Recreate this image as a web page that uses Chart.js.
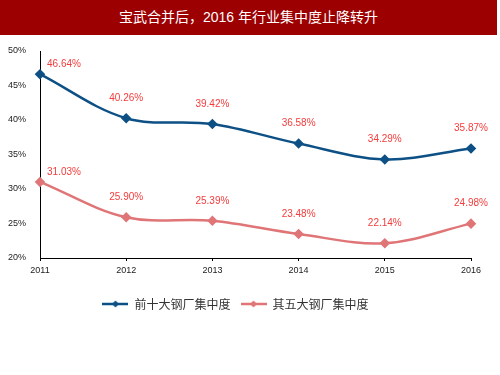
<!DOCTYPE html>
<html>
<head>
<meta charset="utf-8">
<script src="https://cdn.jsdelivr.net/npm/chart.js@4/dist/chart.umd.min.js"></script>
<style>
  body { margin: 0; background: #fff; }
  #title {
    width: 497px; height: 35px; background: #9c0000; color: #fff;
    font: 14px "Liberation Sans", "Noto Sans CJK SC", sans-serif; text-align: center; line-height: 35px;
  }
  #wrap { position: relative; width: 500px; height: 340px; }
</style>
</head>
<body>
<div id="title">宝武合并后，2016 年行业集中度止降转升</div>
<div id="wrap"><canvas id="chart" width="500" height="340"></canvas></div>
<script>
const years = ["2011", "2012", "2013", "2014", "2015", "2016"];
const top10 = [46.64, 40.26, 39.42, 36.58, 34.29, 35.87];
const top5 = [31.03, 25.90, 25.39, 23.48, 22.14, 24.98];
const seriesNames = ["前十大钢厂集中度", "其五大钢厂集中度"];
const colors = ["#0d5085", "#e07577"];

// legend icon: line with diamond
function legendIcon(color) {
  const c = document.createElement("canvas");
  c.width = 26; c.height = 10;
  const g = c.getContext("2d");
  g.strokeStyle = color; g.lineWidth = 2.5;
  g.beginPath(); g.moveTo(0, 5); g.lineTo(26, 5); g.stroke();
  g.fillStyle = color;
  g.beginPath(); g.moveTo(13, 1.5); g.lineTo(16.5, 5); g.lineTo(13, 8.5); g.lineTo(9.5, 5); g.closePath(); g.fill();
  return c;
}
const icons = colors.map(legendIcon);

// red value labels over points
const valueLabels = {
  id: "valueLabels",
  afterDatasetsDraw(chart) {
    const ctx = chart.ctx;
    ctx.save();
    ctx.font = "10px 'Liberation Sans', Arial, sans-serif";
    ctx.fillStyle = "#f43c3c";
    ctx.textAlign = "center";
    ctx.textBaseline = "middle";
    chart.data.datasets.forEach((ds, i) => {
      chart.getDatasetMeta(i).data.forEach((pt, j) => {
        const dx = j === 0 ? 24 : 0;
        const dy = j === 0 ? -10 : -20;
        ctx.fillText(ds.data[j].toFixed(2) + "%", pt.x + dx, pt.y + dy);
      });
    });
    ctx.restore();
  }
};

new Chart(document.getElementById("chart"), {
  type: "line",
  data: {
    labels: years,
    datasets: [top10, top5].map((d, i) => ({
      label: seriesNames[i],
      data: d,
      borderColor: colors[i],
      backgroundColor: colors[i],
      borderWidth: 2.5,
      tension: 0.35,
      pointStyle: "rectRot",
      pointRadius: 3.5,
      pointHoverRadius: 3.5
    }))
  },
  options: {
    responsive: false,
    animation: false,
    layout: { padding: { top: 16, right: 29, left: 0, bottom: 55 } },
    scales: {
      x: {
        offset: false,
        grid: { drawOnChartArea: false, color: "#000", tickLength: 3 },
        border: { color: "#000", width: 1 },
        ticks: { color: "#222", font: { size: 9, family: "'Liberation Sans', Arial" }, padding: 4, maxRotation: 0 },
        afterFit(s) { s.height = 30; }
      },
      y: {
        min: 20, max: 50,
        grid: { display: false },
        border: { color: "#000", width: 1 },
        ticks: {
          stepSize: 5, color: "#222", padding: 6,
          font: { size: 9, family: "'Liberation Sans', Arial" },
          callback: v => v + "%"
        },
        afterFit(s) { s.width = 40; }
      }
    },
    plugins: {
      legend: {
        position: "bottom",
        labels: {
          usePointStyle: true,
          pointStyleWidth: 26,
          color: "#333",
          font: { size: 12, family: "'Noto Sans CJK SC'" },
          generateLabels(chart) {
            const items = Chart.defaults.plugins.legend.labels.generateLabels(chart);
            items.forEach((it, i) => { it.pointStyle = icons[i]; });
            return items;
          }
        }
      },
      tooltip: { enabled: false }
    }
  },
  plugins: [valueLabels]
});
</script>
</body>
</html>
